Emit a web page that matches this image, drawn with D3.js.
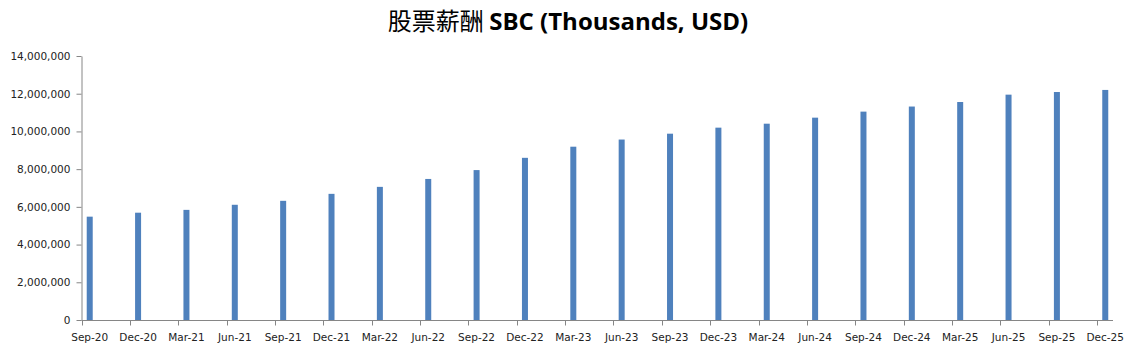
<!DOCTYPE html>
<html lang="en">
<head>
    <meta charset="UTF-8">
    <title>SBC</title>
    <script src="https://d3js.org/d3.v7.min.js"></script>
    <style>
        body {
            margin: 0;
            background-color: #ffffff;
        }
        .axis text {
            font-family: "DejaVu Sans", sans-serif;
            font-size: 10.5px;
            fill: #222;
        }
        .axis path, .axis line {
            stroke: #868686;
        }
        .title {
            font-family: "Open Sans", "Noto Sans CJK SC", sans-serif;
            font-weight: 700;
            font-size: 24px;
            fill: #000;
        }
    </style>
</head>
<body>
<svg width="1137" height="345"></svg>
<script>
    // quarter labels
    const quarters = ["Sep-20", "Dec-20", "Mar-21", "Jun-21", "Sep-21", "Dec-21", "Mar-22", "Jun-22",
      "Sep-22", "Dec-22", "Mar-23", "Jun-23", "Sep-23", "Dec-23", "Mar-24", "Jun-24",
      "Sep-24", "Dec-24", "Mar-25", "Jun-25", "Sep-25", "Dec-25"];

    // stock based comp, thousands USD
    const sbcValues = [5480000, 5690000, 5840000, 6110000, 6320000, 6690000, 7060000, 7480000,
      7950000, 8600000, 9190000, 9570000, 9880000, 10200000, 10410000, 10730000,
      11050000, 11320000, 11560000, 11950000, 12090000, 12200000];

    const yTicks = [0, 2000000, 4000000, 6000000, 8000000, 10000000, 12000000, 14000000];

    const svg = d3.select("svg");

    // title: chinese part in CJK font, rest in latin bold
    const title = svg.append("text")
        .attr("class", "title")
        .attr("x", 568)
        .attr("y", 30)
        .attr("text-anchor", "middle");
    title.append("tspan")
        .style("font-family", "'Noto Sans CJK SC'")
        .style("font-weight", 400)
        .text("股票薪酬 ");
    title.append("tspan").text("SBC (Thousands, USD)");

    // x is a quarter index, ticks sit on whole numbers, bars a bit after
    const x = d3.scaleLinear()
        .domain([0, 21.33])
        .range([81.5, 1113]);
    const barOffset = 0.17;

    const y = d3.scaleLinear()
        .domain([0, 14000000])
        .range([320, 56]);

    const fmt = d3.format(",");

    // y axis
    svg.append("g")
        .attr("class", "axis")
        .attr("transform", "translate(81.5,0)")
        .call(d3.axisLeft(y).tickValues(yTicks).tickFormat(fmt).tickSize(5).tickSizeOuter(0).tickPadding(6));

    // bars
    svg.append("g")
      .selectAll("rect")
      .data(sbcValues)
      .enter().append("rect")
        .attr("x", (d, i) => x(i + barOffset) - 3)
        .attr("width", 6)
        .attr("y", d => y(d))
        .attr("height", d => y(0) - y(d))
        .attr("fill", "#4f81bd");

    // x axis line + ticks
    const xg = svg.append("g")
        .attr("class", "axis")
        .attr("transform", "translate(0,320.5)");
    xg.append("path")
        .attr("d", `M${x(0)},0H${x.range()[1]}`);
    xg.selectAll("line")
      .data(quarters)
      .enter().append("line")
        .attr("x1", (d, i) => Math.round(x(i)) + 0.5)
        .attr("x2", (d, i) => Math.round(x(i)) + 0.5)
        .attr("y1", 0)
        .attr("y2", 5);
    xg.selectAll("text")
      .data(quarters)
      .enter().append("text")
        .attr("x", (d, i) => x(i + barOffset))
        .attr("y", 20)
        .attr("text-anchor", "middle")
        .text(d => d);
</script>
</body>
</html>
